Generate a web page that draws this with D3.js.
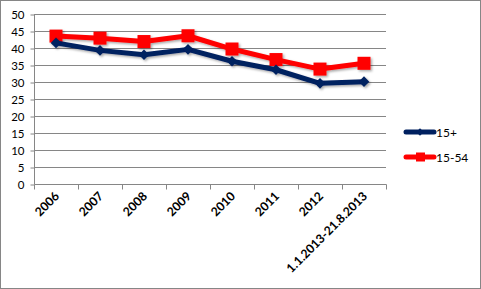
<!DOCTYPE html>
<html><head><meta charset="utf-8">
<script src="https://cdn.jsdelivr.net/npm/d3@7"></script>
<style>body{margin:0;background:#fff}svg{display:block}text{font-family:Lato,"Liberation Sans",Arial,sans-serif}</style>
</head><body><svg id="c" width="481" height="289"></svg>
<script>
const categories = ["2006","2007","2008","2009","2010","2011","2012","1.1.2013-21.8.2013"];
const series15plus = [41.5,39.3,38.0,39.6,36.1,33.6,29.6,30.1];
const series1554 = [43.5,42.9,41.9,43.6,39.7,36.6,33.8,35.5];
const seriesNames = ["15+","15-54"];
const yTicks = [0,5,10,15,20,25,30,35,40,45,50];

const svg = d3.select("#c");
svg.append("rect").attr("x",0.5).attr("y",0.5).attr("width",480).attr("height",288).attr("fill","#fff").attr("stroke","#868686");

const x = d3.scaleBand().domain(categories).range([34,386]);
const y = d3.scaleLinear().domain([0,50]).range([184,14]);

const defs = svg.append("defs");
const f = defs.append("filter").attr("id","sh").attr("x","-20%").attr("y","-20%").attr("width","140%").attr("height","140%");
f.append("feDropShadow").attr("dx",1.5).attr("dy",1.5).attr("stdDeviation",1.2).attr("flood-color","#000").attr("flood-opacity",0.35);

// gridlines
svg.append("g").selectAll("line").data(yTicks.filter(d=>d>0)).join("line")
  .attr("x1",34).attr("x2",386).attr("y1",d=>Math.round(y(d))+0.5).attr("y2",d=>Math.round(y(d))+0.5)
  .attr("stroke","#868686").attr("stroke-width",1);

// y axis
const yAxis = svg.append("g").attr("transform","translate(34.5,0.5)")
  .call(d3.axisLeft(y).tickValues(yTicks).tickSize(4).tickPadding(6));
yAxis.select(".domain").attr("stroke","#868686").attr("d","M0,"+(y(50))+"V"+y(0));
yAxis.selectAll(".tick line").attr("stroke","#868686");
yAxis.selectAll("text").attr("font-size","11.5px").attr("fill","#000").attr("font-family","Lato,sans-serif");

// x axis
const xAxis = svg.append("g").attr("transform","translate(0.5,184.5)")
  .call(d3.axisBottom(x).tickSize(0).tickFormat(""));
xAxis.select(".domain").attr("stroke","#868686").attr("d","M34,0H386");
const tickPos = categories.map(c=>x(c)).concat([x.range()[1]]);
xAxis.append("g").selectAll("line").data(tickPos).join("line")
  .attr("x1",d=>d).attr("x2",d=>d).attr("y1",0).attr("y2",5).attr("stroke","#868686");
svg.append("g").selectAll("text").data(categories).join("text")
  .attr("transform",d=>`translate(${x(d)+x.bandwidth()/2+4},${197}) rotate(-45)`)
  .attr("text-anchor","end").attr("font-size","12.2px").attr("font-weight","bold").attr("fill","#000")
  .text(d=>d);

const line = d3.line().x((d,i)=>x(categories[i])+x.bandwidth()/2).y(d=>y(d));
const colBlue = "#002060", colRed = "#ff0000";

const g2 = svg.append("g").attr("filter","url(#sh)");
g2.append("path").datum(series1554).attr("d",line).attr("fill","none").attr("stroke",colRed).attr("stroke-width",5).attr("stroke-linejoin","round");
g2.selectAll("rect.m").data(series1554).join("rect").attr("class","m")
  .attr("x",(d,i)=>x(categories[i])+x.bandwidth()/2-6.5).attr("y",d=>y(d)-6.5).attr("width",13).attr("height",13).attr("fill",colRed);

const g1 = svg.append("g").attr("filter","url(#sh)");
g1.append("path").datum(series15plus).attr("d",line).attr("fill","none").attr("stroke",colBlue).attr("stroke-width",5).attr("stroke-linejoin","round");
g1.selectAll("path.m").data(series15plus).join("path").attr("class","m")
  .attr("d",d3.symbol().type(d3.symbolDiamond2).size(72))
  .attr("transform",(d,i)=>`translate(${x(categories[i])+x.bandwidth()/2},${y(d)})`).attr("fill",colBlue);

// legend
const lg = svg.append("g");
const legY = [132,157];
[[colBlue,"diamond"],[colRed,"square"]].forEach((c,i)=>{
  lg.append("line").attr("x1",406).attr("x2",434).attr("y1",legY[i]).attr("y2",legY[i]).attr("stroke",c[0]).attr("stroke-width",5).attr("stroke-linecap","round");
  if(c[1]==="diamond") lg.append("path").attr("d",d3.symbol().type(d3.symbolDiamond2).size(35)).attr("transform",`translate(420,${legY[i]})`).attr("fill",c[0]);
  else lg.append("rect").attr("x",416).attr("y",legY[i]-4.5).attr("width",9).attr("height",9).attr("fill",c[0]);
  lg.append("text").attr("x",436).attr("y",legY[i]+4.5).attr("font-size","12px").attr("fill","#000").text(seriesNames[i]);
});
</script></body></html>
